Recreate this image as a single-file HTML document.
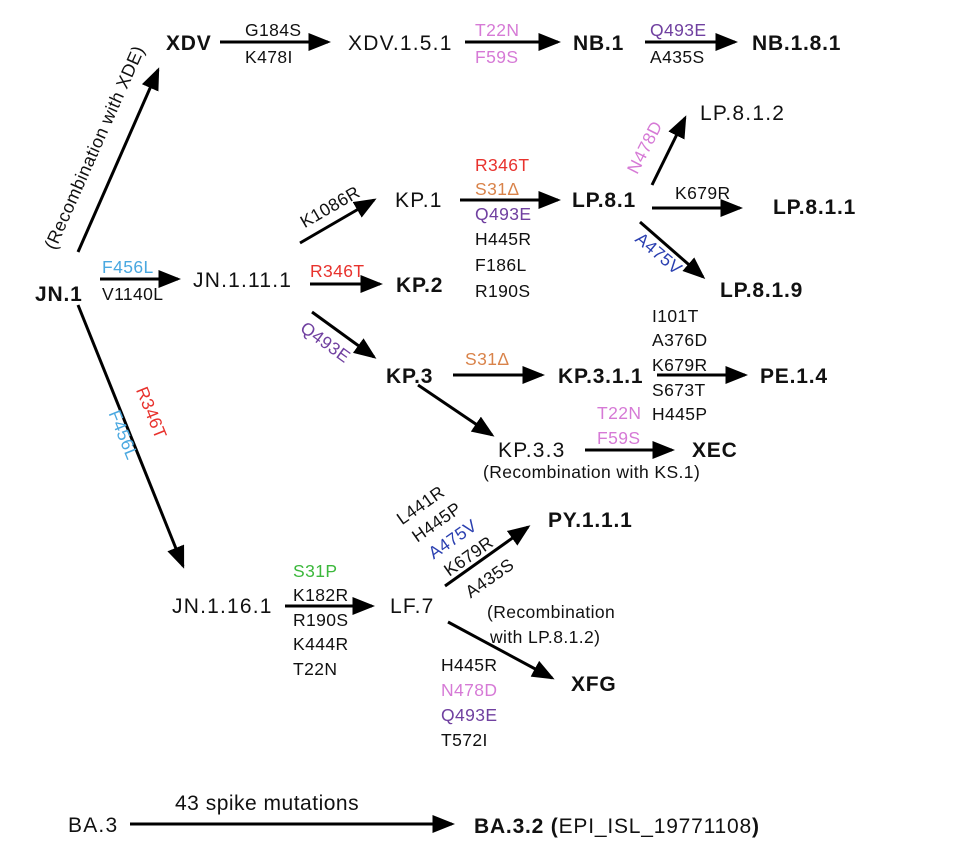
<!DOCTYPE html>
<html><head><meta charset="utf-8"><style>
html,body{margin:0;padding:0;background:#fff}
svg{display:block}
text{font-family:"Liberation Sans",sans-serif;fill:#111}
.n{font-size:21px;letter-spacing:1.2px}
.b{font-size:21px;font-weight:bold;letter-spacing:0.8px}
.m{font-size:17.5px;letter-spacing:0.4px}
.r{fill:#e8322d}.o{fill:#d9834a}.p{fill:#7040a0}.k{fill:#d67ad6}.lb{fill:#4aa8e0}.bl{fill:#2a3fb0}.g{fill:#3cb83c}
</style></head><body>
<svg width="960" height="866" viewBox="0 0 960 866" xmlns="http://www.w3.org/2000/svg">
<defs><marker id="a" markerWidth="7.5" markerHeight="6" refX="6.5" refY="3" orient="auto" markerUnits="strokeWidth"><path d="M0,0 L7.5,3 L0,6 z" fill="#000"/></marker></defs>
<g stroke="#000" stroke-width="3" marker-end="url(#a)">
<line x1="78" y1="252" x2="158" y2="70"/>
<line x1="220" y1="42" x2="328" y2="42"/>
<line x1="465" y1="42" x2="558" y2="42"/>
<line x1="645" y1="42" x2="735" y2="42"/>
<line x1="100" y1="279" x2="178" y2="279"/>
<line x1="310" y1="284" x2="380" y2="284"/>
<line x1="300" y1="243" x2="374" y2="200"/>
<line x1="460" y1="200" x2="558" y2="200"/>
<line x1="652" y1="185" x2="685" y2="118"/>
<line x1="652" y1="208" x2="740" y2="208"/>
<line x1="640" y1="222" x2="703" y2="277"/>
<line x1="312" y1="312" x2="374" y2="357"/>
<line x1="453" y1="375" x2="542" y2="375"/>
<line x1="657" y1="375" x2="745" y2="375"/>
<line x1="418" y1="385" x2="492" y2="435"/>
<line x1="585" y1="450" x2="672" y2="450"/>
<line x1="78" y1="305" x2="183" y2="566"/>
<line x1="285" y1="606" x2="372" y2="606"/>
<line x1="445" y1="586" x2="528" y2="527"/>
<line x1="448" y1="622" x2="552" y2="678"/>
<line x1="130" y1="824" x2="452" y2="824"/>
</g>
<text class="b" x="166" y="50">XDV</text>
<text class="m" x="245" y="36">G184S</text>
<text class="m" x="245" y="63">K478I</text>
<text class="n" x="348" y="50">XDV.1.5.1</text>
<text class="m k" x="475" y="36">T22N</text>
<text class="m k" x="475" y="63">F59S</text>
<text class="b" x="573" y="50">NB.1</text>
<text class="m p" x="650" y="36">Q493E</text>
<text class="m" x="650" y="63">A435S</text>
<text class="b" x="752" y="50">NB.1.8.1</text>
<text class="m" transform="translate(100,150) rotate(-66)" text-anchor="middle" style="font-size:18px">(Recombination with XDE)</text>
<text class="b" x="35" y="301">JN.1</text>
<text class="m lb" x="102" y="273">F456L</text>
<text class="m" x="102" y="300">V1140L</text>
<text class="n" x="193" y="287">JN.1.11.1</text>
<text class="m r" x="310" y="277">R346T</text>
<text class="b" x="396" y="292">KP.2</text>
<text class="m" transform="translate(333,212) rotate(-30)" text-anchor="middle">K1086R</text>
<text class="n" x="395" y="207">KP.1</text>
<text class="m r" x="475" y="171">R346T</text>
<text class="m o" x="475" y="195">S31Δ</text>
<text class="m p" x="475" y="220">Q493E</text>
<text class="m" x="475" y="245">H445R</text>
<text class="m" x="475" y="271">F186L</text>
<text class="m" x="475" y="297">R190S</text>
<text class="b" x="572" y="207">LP.8.1</text>
<text class="m k" transform="translate(650,150) rotate(-63)" text-anchor="middle">N478D</text>
<text class="n" x="700" y="120">LP.8.1.2</text>
<text class="m" x="675" y="199">K679R</text>
<text class="b" x="773" y="214">LP.8.1.1</text>
<text class="m bl" transform="translate(655,258) rotate(40)" text-anchor="middle">A475V</text>
<text class="b" x="720" y="297">LP.8.1.9</text>
<text class="m" x="652" y="322">I101T</text>
<text class="m" x="652" y="346">A376D</text>
<text class="m" x="652" y="371">K679R</text>
<text class="m" x="652" y="396">S673T</text>
<text class="m" x="652" y="420">H445P</text>
<text class="m p" transform="translate(322,347) rotate(36)" text-anchor="middle">Q493E</text>
<text class="b" x="386" y="383">KP.3</text>
<text class="m o" x="465" y="365">S31Δ</text>
<text class="b" x="558" y="383">KP.3.1.1</text>
<text class="b" x="760" y="383">PE.1.4</text>
<text class="m k" x="597" y="419">T22N</text>
<text class="m k" x="597" y="444">F59S</text>
<text class="n" x="498" y="457">KP.3.3</text>
<text class="m" x="483" y="478">(Recombination with KS.1)</text>
<text class="b" x="692" y="457">XEC</text>
<text class="m r" transform="translate(146,415) rotate(68)" text-anchor="middle">R346T</text>
<text class="m lb" transform="translate(118,437) rotate(68)" text-anchor="middle">F456L</text>
<text class="n" x="172" y="613">JN.1.16.1</text>
<text class="m g" x="293" y="577">S31P</text>
<text class="m" x="293" y="601">K182R</text>
<text class="m" x="293" y="626">R190S</text>
<text class="m" x="293" y="650">K444R</text>
<text class="m" x="293" y="675">T22N</text>
<text class="n" x="390" y="613">LF.7</text>
<text class="m" transform="translate(424,510) rotate(-35)" text-anchor="middle">L441R</text>
<text class="m" transform="translate(440,527) rotate(-35)" text-anchor="middle">H445P</text>
<text class="m bl" transform="translate(456,544) rotate(-35)" text-anchor="middle">A475V</text>
<text class="m" transform="translate(472,561) rotate(-35)" text-anchor="middle">K679R</text>
<text class="m" transform="translate(493,583) rotate(-35)" text-anchor="middle">A435S</text>
<text class="b" x="548" y="527">PY.1.1.1</text>
<text class="m" x="487" y="618">(Recombination</text>
<text class="m" x="490" y="643">with LP.8.1.2)</text>
<text class="m" x="441" y="671">H445R</text>
<text class="m k" x="441" y="696">N478D</text>
<text class="m p" x="441" y="721">Q493E</text>
<text class="m" x="441" y="746">T572I</text>
<text class="b" x="571" y="691">XFG</text>
<text class="n" x="68" y="832">BA.3</text>
<text x="175" y="810" style="font-size:21px;letter-spacing:0.5px">43 spike mutations</text>
<text class="b" x="474" y="833">BA.3.2 (<tspan font-weight="normal">EPI_ISL_19771108</tspan>)</text>
</svg>
</body></html>
